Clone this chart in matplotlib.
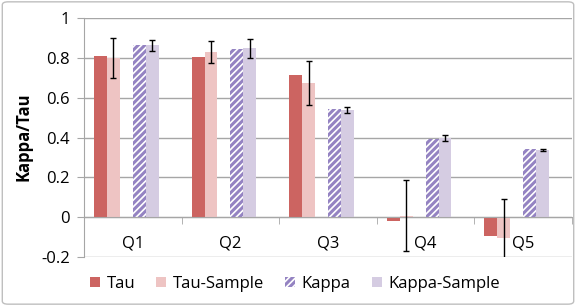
import numpy as np
import matplotlib.pyplot as plt
from matplotlib.patches import FancyBboxPatch

plt.rcParams['font.family'] = ['Open Sans', 'DejaVu Sans']
plt.rcParams['hatch.linewidth'] = 1.2

cats = ['Q1', 'Q2', 'Q3', 'Q4', 'Q5']
tau = [0.809, 0.804, 0.714, -0.020, -0.094]
tau_s = [0.800, 0.829, 0.673, 0.007, -0.107]
tau_s_err = [0.100, 0.055, 0.112, 0.178, 0.197]
kappa = [0.864, 0.843, 0.541, 0.390, 0.340]
kappa_s = [0.864, 0.849, 0.538, 0.398, 0.337]
kappa_s_err = [0.028, 0.048, 0.017, 0.016, 0.003]

fig = plt.figure(figsize=(5.76, 3.06), dpi=100)
ax = fig.add_axes([84/576, 1-257/306, 488/576, 239/306])

x = np.arange(len(cats))
w = 13/98
off = lambda k: -0.5 + 10/98 + (k + 0.5)*w

ax.bar(x + off(0), tau, w, color='#CC6461', label='Tau', zorder=2)
ax.bar(x + off(1), tau_s, w, color='#EEC4C3', label='Tau-Sample', zorder=2)
ax.bar(x + off(3), kappa, w, color='#9483C2', edgecolor='white', hatch='/////',
       linewidth=0, label='Kappa', zorder=2)
ax.bar(x + off(4), kappa_s, w, color='#D5CCE2', label='Kappa-Sample', zorder=2)
ax.errorbar(x + off(1), tau_s, yerr=tau_s_err, fmt='none', ecolor='black',
            elinewidth=1, capsize=2, capthick=1, zorder=3)
ax.errorbar(x + off(4), kappa_s, yerr=kappa_s_err, fmt='none', ecolor='black',
            elinewidth=1, capsize=2, capthick=1, zorder=3)

ax.set_xlim(-0.5, 4.5)
ax.set_ylim(-0.2, 1.0)
ax.set_yticks([-0.2, 0, 0.2, 0.4, 0.6, 0.8, 1.0])
ax.set_yticklabels(['-0.2', '0', '0.2', '0.4', '0.6', '0.8', '1'])
ax.yaxis.grid(True, color='#A6A6A6', linewidth=1)
ax.set_axisbelow(True)

for s in ['top', 'right']:
    ax.spines[s].set_visible(False)
ax.spines['left'].set_color('#A6A6A6')
ax.spines['bottom'].set_color('#A6A6A6')
ax.spines['bottom'].set_position(('data', 0))
ax.spines['left'].set_bounds(-0.2, 1.0)

ax.set_xticks(x)
ax.set_xticklabels(cats)
ax.set_xticks(np.arange(-0.5, 5, 1), minor=True)
ax.tick_params(axis='x', which='major', length=0, pad=13, labelsize=12)
ax.tick_params(axis='x', which='minor', length=5, color='#A6A6A6', direction='out')
ax.tick_params(axis='y', length=5, color='#A6A6A6', labelsize=12, pad=5)

fig.text(23/576, 1-137/306, 'Kappa/Tau', rotation=90, fontsize=12,
         fontweight='bold', ha='center', va='center')

fig.legend(loc='center', bbox_to_anchor=(295/576, 1-284/306), ncol=4,
           frameon=False, fontsize=12, handlelength=0.6, handleheight=0.6,
           handletextpad=0.4, columnspacing=1.25)

fig.patches.append(FancyBboxPatch((0.004, 0.006), 0.992, 0.988,
                                  boxstyle='round,pad=0,rounding_size=0.01',
                                  transform=fig.transFigure, fill=False,
                                  edgecolor='#BFBFBF', linewidth=1))

fig.savefig('out.png', dpi=100)
